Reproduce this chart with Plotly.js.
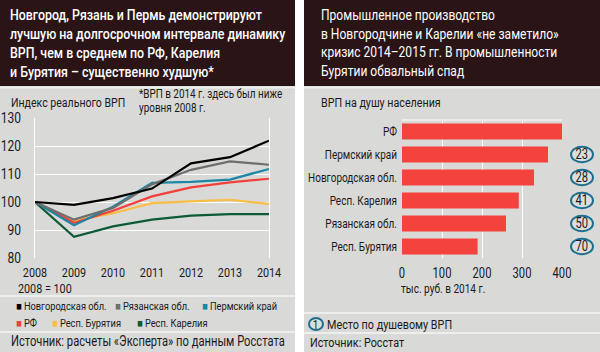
<!DOCTYPE html>
<html><head><meta charset="utf-8">
<script src="https://cdn.plot.ly/plotly-3.0.1.min.js"></script>
<style>html,body{margin:0;padding:0;background:#fff}#c{width:600px;height:352px}</style>
</head><body><div id="c"></div>
<script>
// ---- data: left chart (index of real GRP, 2008 = 100)
const years = [2008, 2009, 2010, 2011, 2012, 2013, 2014];
const novgorod = [100, 99.0, 101.4, 104.8, 113.8, 116.0, 121.9];
const ryazan   = [100, 93.7, 97.9, 106.3, 111.5, 114.5, 113.3];
const perm     = [100, 91.7, 98.3, 106.8, 107.2, 108.0, 111.8];
const rf       = [100, 92.6, 96.9, 102.0, 105.2, 107.0, 108.3];
const buryatia = [100, 93.3, 96.0, 99.6, 100.2, 100.8, 99.3];
const karelia  = [100, 87.6, 91.3, 93.7, 95.1, 95.7, 95.7];
const seriesNames = ['Новгородская обл.', 'Рязанская обл.', 'Пермский край', 'РФ', 'Респ. Бурятия', 'Респ. Карелия'];
const yTicks = [80, 90, 100, 110, 120, 130];

// ---- data: right chart (GRP per capita, thousand rub., 2014)
const regions = ['РФ', 'Пермский край', 'Новгородская обл.', 'Респ. Карелия', 'Рязанская обл.', 'Респ. Бурятия'];
const grpPerCapita = [401, 365, 330, 292, 260, 189];
const ranks = [null, 23, 28, 41, 50, 70];
const xTicks2 = [0, 100, 200, 300, 400];

// ---- styling
const W = 600, H = 352;
const F = 'Roboto, "Liberation Sans", sans-serif';
const SQ = 0.8;           // horizontal condensing of the body font
const DARK = '#2b1416', PANEL = '#d9d9d7', TXT = '#1a1a1a';
const colors = ['#000000', '#6e6e6e', '#1b86a6', '#f2403b', '#f9bd45', '#0d5b36'];
const seriesData = [novgorod, ryazan, perm, rf, buryatia, karelia];
const px = x => x / W, py = y => 1 - y / H;

const traces = [];
for (let i = seriesData.length - 1; i >= 0; i--) {
  traces.push({type: 'scatter', mode: 'lines', x: years, y: seriesData[i], name: seriesNames[i],
    line: {color: colors[i], width: 2.2}, xaxis: 'x', yaxis: 'y', showlegend: false, hoverinfo: 'skip'});
}
traces.push({type: 'bar', orientation: 'h', x: grpPerCapita, y: regions, width: 0.7,
  marker: {color: '#f4423c'}, xaxis: 'x2', yaxis: 'y2', showlegend: false, hoverinfo: 'skip'});

const L1 = 295, R0 = 304;
const shapes = [
  {type: 'rect', xref: 'paper', yref: 'paper', x0: 0, x1: px(L1), y0: 0, y1: 1, fillcolor: PANEL, line: {width: 0}, layer: 'below'},
  {type: 'rect', xref: 'paper', yref: 'paper', x0: px(R0), x1: 1, y0: 0, y1: 1, fillcolor: PANEL, line: {width: 0}, layer: 'below'},
  {type: 'rect', xref: 'paper', yref: 'paper', x0: 0, x1: px(L1), y0: py(86), y1: 1, fillcolor: DARK, line: {width: 0}, layer: 'below'},
  {type: 'rect', xref: 'paper', yref: 'paper', x0: px(R0), x1: 1, y0: py(86), y1: 1, fillcolor: DARK, line: {width: 0}, layer: 'below'},
  {type: 'line', xref: 'paper', yref: 'paper', x0: 0, x1: px(L1), y0: py(87.5), y1: py(87.5), line: {color: '#eeeeee', width: 2}, layer: 'below'},
  {type: 'line', xref: 'paper', yref: 'paper', x0: px(R0), x1: 1, y0: py(87.5), y1: py(87.5), line: {color: '#eeeeee', width: 2}, layer: 'below'},
  {type: 'line', xref: 'paper', yref: 'paper', x0: 0, x1: px(L1), y0: py(296), y1: py(296), line: {color: '#f4f4f4', width: 1.5}, layer: 'below'},
  {type: 'line', xref: 'paper', yref: 'paper', x0: 0, x1: px(L1), y0: py(332), y1: py(332), line: {color: '#f4f4f4', width: 1.5}, layer: 'below'},
  {type: 'line', xref: 'paper', yref: 'paper', x0: px(R0), x1: 1, y0: py(313), y1: py(313), line: {color: '#f4f4f4', width: 1.5}, layer: 'below'},
  {type: 'line', xref: 'paper', yref: 'paper', x0: px(R0), x1: 1, y0: py(333), y1: py(333), line: {color: '#f4f4f4', width: 1.5}, layer: 'below'},
  {type: 'line', xref: 'paper', yref: 'paper', x0: px(402), x1: px(562), y0: py(120), y1: py(120), line: {color: '#ffffff', width: 1}, layer: 'below'}
];
const RING = '#1d6f8f';
regions.forEach((r, i) => {
  if (ranks[i] == null) return;
  shapes.push({type: 'circle', xref: 'paper', yref: 'y2', x0: px(571), x1: px(593), y0: i - 0.34, y1: i + 0.34,
    line: {color: RING, width: 2}, fillcolor: 'rgba(255,255,255,0.12)'});
});
shapes.push({type: 'circle', xref: 'paper', yref: 'paper', x0: px(309), x1: px(323), y0: py(330), y1: py(318),
  line: {color: RING, width: 2}, fillcolor: 'rgba(255,255,255,0.12)'});

const annotations = [], annScale = [];
function txt(x, y, text, size, color, anchor, sq, weight) {
  annotations.push({xref: 'paper', yref: 'paper', x: px(x), y: py(y), text: text, showarrow: false,
    xanchor: anchor || 'left', yanchor: 'middle', align: anchor || 'left', borderpad: 0,
    font: {family: F, size: size, color: color, weight: weight || 400}});
  annScale.push(sq || SQ);
}
// headers
['Новгород, Рязань и Пермь демонстрируют', 'лучшую на долгосрочном интервале динамику',
 'ВРП, чем в среднем по РФ, Карелия', 'и Бурятия – существенно худшую*'].forEach((t, i) => txt(9, 15 + i * 19, t, 15.5, '#ffffff', 'left', 0.8, 500));
['Промышленное производство', 'в Новгородчине и Карелии «не заметило»',
 'кризис 2014–2015 гг. В промышленности', 'Бурятии обвальный спад'].forEach((t, i) => txt(320, 15 + i * 18.5, t, 14.7, '#ffffff', 'left', 0.82));
// left panel texts
txt(10, 102, 'Индекс реального ВРП', 13.2, TXT);
txt(138, 93.5, '*ВРП в 2014 г. здесь был ниже', 12.4, TXT);
txt(138, 107.5, 'уровня 2008 г.', 12.4, TXT);
txt(17, 287.5, '2008 = 100', 13.5, TXT);
const legRows = [[0, 1, 2], [3, 4, 5]];
const legX = [[15, 114, 201], [15, 51, 136]];
legRows.forEach((row, r) => row.forEach((si, k) => {
  txt(legX[r][k], 306 + r * 17, '<span style="color:' + colors[si] + '">■</span> ' + seriesNames[si], 11.6, TXT);
}));
txt(10, 341, 'Источник: расчеты «Эксперта» по данным Росстата', 14, TXT);
// right panel texts
txt(320, 102, 'ВРП на душу населения', 13.4, TXT);
txt(400, 288.5, 'тыс. руб. в 2014 г.', 12.6, TXT);
regions.forEach((r, i) => {
  if (ranks[i] == null) return;
  annotations.push({xref: 'paper', yref: 'y2', x: px(582), y: r, text: String(ranks[i]), showarrow: false,
    xanchor: 'center', yanchor: 'middle', borderpad: 0, font: {family: F, size: 14, color: TXT}});
  annScale.push(SQ);
});
txt(316, 324, '1', 12.5, TXT, 'center');
txt(326, 324, 'Место по душевому ВРП', 13.5, TXT);
txt(309, 342, 'Источник: Росстат', 13.5, TXT);

const layout = {
  width: W, height: H, margin: {l: 0, r: 0, t: 0, b: 0},
  paper_bgcolor: '#ffffff', plot_bgcolor: 'rgba(0,0,0,0)', showlegend: false,
  font: {family: F, size: 13, color: TXT},
  xaxis: {domain: [px(35), px(269)], range: [2008, 2014], tickvals: years, ticktext: years.map(String),
    showgrid: false, zeroline: false, showline: false, ticks: '', ticklabelstandoff: 5,
    tickfont: {family: F, size: 13.5, color: TXT}, fixedrange: true},
  yaxis: {domain: [py(258), py(118)], range: [80, 130], tickvals: yTicks,
    showgrid: true, gridcolor: '#ffffff', gridwidth: 1, zeroline: false,
    showline: true, mirror: true, linecolor: '#ffffff', linewidth: 1,
    ticks: '', ticklabelstandoff: 10, tickfont: {family: F, size: 15, color: TXT}, fixedrange: true},
  xaxis2: {domain: [px(402), px(562)], range: [0, 400], tickvals: xTicks2,
    showgrid: true, gridcolor: '#ffffff', gridwidth: 1, zeroline: false,
    showline: false, ticks: '', ticklabelstandoff: 5, anchor: 'y2',
    tickfont: {family: F, size: 14, color: TXT}, fixedrange: true},
  yaxis2: {domain: [py(258), py(120)], type: 'category', categoryarray: regions, range: [5.5, -0.5],
    showgrid: false, zeroline: false, showline: false, ticks: '', ticklabelstandoff: 4, anchor: 'x2',
    tickfont: {family: F, size: 12.5, color: TXT}, fixedrange: true},
  shapes: shapes, annotations: annotations
};

function squeeze(el, s) {
  const bb = el.getBBox();
  const a = el.getAttribute('text-anchor') || 'start';
  const ax = a === 'middle' ? bb.x + bb.width / 2 : a === 'end' ? bb.x + bb.width : bb.x;
  const prev = el.getAttribute('transform') || '';
  el.setAttribute('transform', prev + ' translate(' + ax + ' 0) scale(' + s + ' 1) translate(' + (-ax) + ' 0)');
}

Plotly.newPlot('c', traces, layout, {staticPlot: true, displayModeBar: false}).then(gd => {
  gd.querySelectorAll('g.annotation').forEach(g => {
    const idx = +g.getAttribute('data-index');
    const t = g.querySelector('text.annotation-text');
    if (t) squeeze(t, annScale[idx]);
  });
  gd.querySelectorAll('g.xtick text, g.ytick text, g.x2tick text, g.y2tick text').forEach(t => squeeze(t, SQ));
});
</script></body></html>
